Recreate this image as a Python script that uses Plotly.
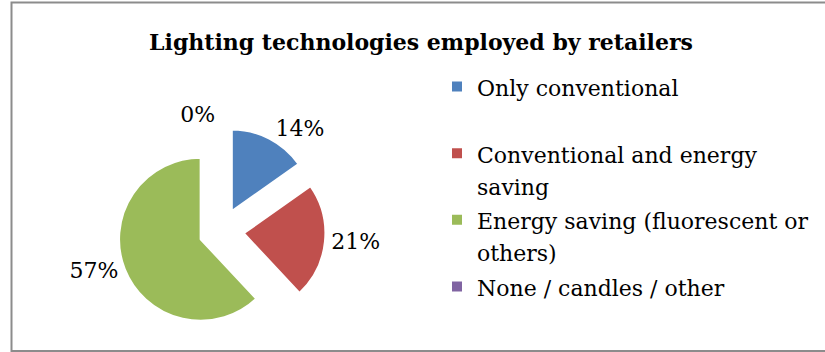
import plotly.graph_objects as go

W, H = 825, 352

# Survey shares of lighting technologies
categories = [
    "Only conventional<br> ",
    "Conventional and energy<br>saving",
    "Energy saving (fluorescent or<br>others)",
    "None / candles / other",
]
shares = [0.14, 0.21, 0.57, 0.0]
share_labels = [f"{round(v * 100)}%" for v in shares]
colors = ["#4f81bd", "#c0504d", "#9bbb59", "#8064a2"]

SERIF = "DejaVu Serif"


def px_x(x):
    return x / W


def px_y(y):
    return 1 - y / H


# legend entries are drawn at 22px inside a slightly larger base font,
# which gives the looser row spacing of the legend
legend_names = [f"<span style='font-size:22px'>{c}</span>" for c in categories]

fig = go.Figure(
    go.Pie(
        labels=legend_names,
        values=shares,
        text=share_labels,
        textinfo="text",
        textposition="outside",
        hoverinfo="label+text",
        sort=False,
        direction="clockwise",
        rotation=0,
        pull=[0.275, 0.275, 0.275, 0.275],
        marker=dict(colors=colors, line=dict(color="white", width=2)),
        textfont=dict(family=SERIF, size=22, color="#000000"),
        domain=dict(x=[px_x(117.5), px_x(325.5)], y=[px_y(335), px_y(127)]),
        showlegend=True,
    )
)

fig.update_layout(
    width=W,
    height=H,
    margin=dict(l=0, r=0, t=0, b=0, autoexpand=False),
    paper_bgcolor="white",
    plot_bgcolor="white",
    title=dict(
        text="<b>Lighting technologies employed by retailers</b>",
        x=px_x(421),
        y=px_y(42),
        xanchor="center",
        yanchor="middle",
        font=dict(family=SERIF, size=22, color="#000000"),
    ),
    legend=dict(
        x=px_x(437),
        y=px_y(64),
        xanchor="left",
        yanchor="top",
        valign="top",
        font=dict(family=SERIF, size=24.5, color="#000000"),
        bgcolor="rgba(0,0,0,0)",
        traceorder="normal",
    ),
    shapes=[
        dict(
            type="rect",
            xref="paper",
            yref="paper",
            x0=px_x(11.5),
            x1=px_x(830),
            y0=px_y(351),
            y1=px_y(2.5),
            line=dict(color="#8c8c8c", width=2),
            fillcolor="rgba(0,0,0,0)",
            layer="below",
        )
    ],
)

fig.write_html("out.html")
